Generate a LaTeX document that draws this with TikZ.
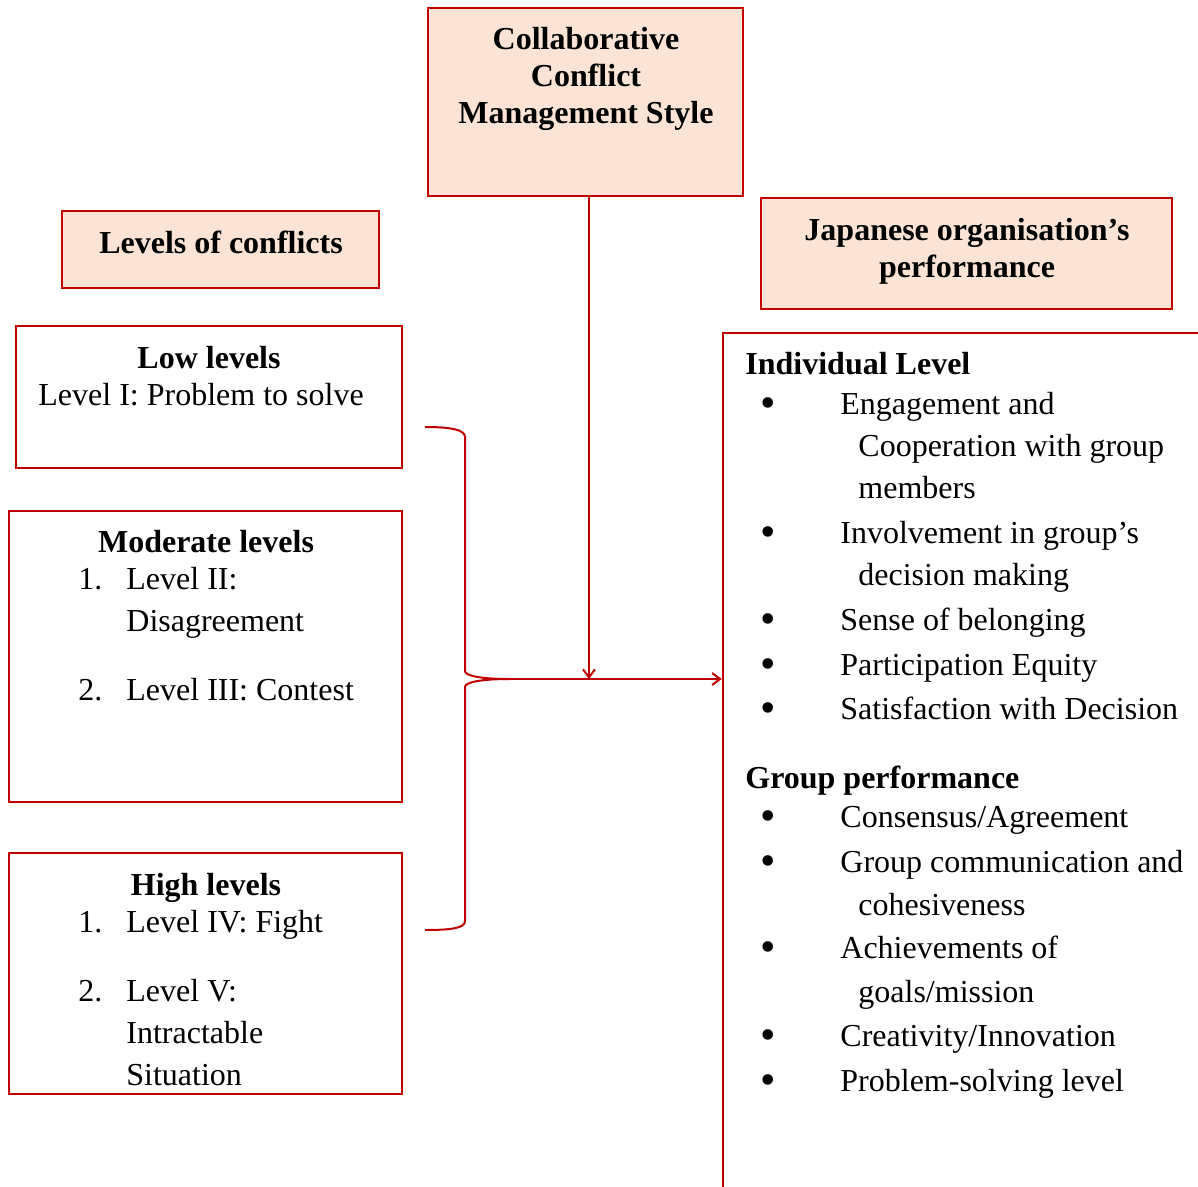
\documentclass[tikz,border=0pt]{standalone}
\usepackage{fontspec}
\setmainfont{Liberation Serif}
\usetikzlibrary{fit,arrows.meta,calc}
\definecolor{dred}{HTML}{C00000}
\definecolor{peach}{HTML}{FBE4D5}
\begin{document}
\begin{tikzpicture}[x=0.5pt,y=-0.5pt,
  box/.style={draw=dred,line width=1.2pt,inner sep=0pt},
  fbox/.style={box,fill=peach},
  conn/.style={draw=dred,line width=1pt},
  arr/.style={conn,-{Straight Barb[length=4pt,width=6pt]}},
  txt/.style={font=\fontsize{16}{21}\selectfont,inner sep=0pt,yshift=-0.8pt},
  btxt/.style={txt,font=\fontsize{16}{21}\selectfont\bfseries},
  bul/.style={txt,anchor=base,font=\fontsize{22}{21}\selectfont,yshift=-1.5pt}]
\useasboundingbox (0,0) rectangle (1198,1187);
\clip (0,0) rectangle (1198,1187);
% boxes
\node[fbox,fit={(428,8) (743,196)}] (collab) {};
\node[fbox,fit={(62,211) (379,288)}] (levels) {};
\node[fbox,fit={(761,198) (1172,309)}] (japan) {};
\node[box,fit={(16,326) (402,468)}] (low) {};
\node[box,fit={(9,511) (402,802)}] (moderate) {};
\node[box,fit={(9,853) (402,1094)}] (high) {};
\node[box,fit={(723,333) (1215,1205)}] (perf) {};
% titles
\node[btxt,anchor=base] (t1) at (586,48) {Collaborative};
\node[btxt,anchor=base] (t2) at (586,85) {Conflict};
\node[btxt,anchor=base] (t3) at (586,122) {Management Style};
\node[btxt,anchor=base] (t4) at (221,252) {Levels of conflicts};
\node[btxt,anchor=base] (t5) at (967,239) {Japanese organisation’s};
\node[btxt,anchor=base] (t6) at (967,276) {performance};
% left boxes text
\node[btxt,anchor=base] (l1) at (209,367) {Low levels};
\node[txt,anchor=base west] (l2) at (38,404) {Level I: Problem to solve};
\node[btxt,anchor=base] (m1) at (206,551) {Moderate levels};
\node[txt,anchor=base west] (m2n) at (78,588) {1.};
\node[txt,anchor=base west] (m2) at (126,588) {Level II:};
\node[txt,anchor=base west] (m3) at (126,630) {Disagreement};
\node[txt,anchor=base west] (m4n) at (78,699) {2.};
\node[txt,anchor=base west] (m4) at (126,699) {Level III: Contest};
\node[btxt,anchor=base] (h1) at (206,894) {High levels};
\node[txt,anchor=base west] (h2n) at (78,931) {1.};
\node[txt,anchor=base west] (h2) at (126,931) {Level IV: Fight};
\node[txt,anchor=base west] (h3n) at (78,1000) {2.};
\node[txt,anchor=base west] (h3) at (126,1000) {Level V:};
\node[txt,anchor=base west] (h4) at (126,1042) {Intractable};
\node[txt,anchor=base west] (h5) at (126,1084) {Situation};
% right box text
\node[btxt,anchor=base west] (r0) at (745,373) {Individual Level};
\node[bul] (b1) at (768,413) {•};
\node[txt,anchor=base west] (r1) at (840,413) {Engagement and};
\node[txt,anchor=base west] (r1b) at (858,455) {Cooperation with group};
\node[txt,anchor=base west] (r1c) at (858,497) {members};
\node[bul] (b2) at (768,542) {•};
\node[txt,anchor=base west] (r2) at (840,542) {Involvement in group’s};
\node[txt,anchor=base west] (r2b) at (858,584) {decision making};
\node[bul] (b3) at (768,629) {•};
\node[txt,anchor=base west] (r3) at (840,629) {Sense of belonging};
\node[bul] (b4) at (768,674) {•};
\node[txt,anchor=base west] (r4) at (840,674) {Participation Equity};
\node[bul] (b5) at (768,718) {•};
\node[txt,anchor=base west] (r5) at (840,718) {Satisfaction with Decision};
\node[btxt,anchor=base west] (g0) at (745,787) {Group performance};
\node[bul] (c1) at (768,826) {•};
\node[txt,anchor=base west] (g1) at (840,826) {Consensus/Agreement};
\node[bul] (c2) at (768,871) {•};
\node[txt,anchor=base west] (g2) at (840,871) {Group communication and};
\node[txt,anchor=base west] (g2b) at (858,914) {cohesiveness};
\node[bul] (c3) at (768,957) {•};
\node[txt,anchor=base west] (g3) at (840,957) {Achievements of};
\node[txt,anchor=base west] (g3b) at (858,1001) {goals/mission};
\node[bul] (c4) at (768,1045) {•};
\node[txt,anchor=base west] (g4) at (840,1045) {Creativity/Innovation};
\node[bul] (c5) at (768,1090) {•};
\node[txt,anchor=base west] (g5) at (840,1090) {Problem-solving level};
% brace
\coordinate (btop) at (425,427);
\coordinate (bbot) at (425,930);
\coordinate (tip) at (510,679);
\draw[conn] (btop) .. controls (452,427) and (465,430) .. (465,437)
  -- (465,671) .. controls (465,676) and (482,679) .. (tip)
  .. controls (482,679) and (465,682) .. (465,687)
  -- (465,921) .. controls (465,928) and (452,930) .. (bbot);
% connectors
\draw[arr] (tip) -- (tip -| perf.west);
\draw[arr] ([xshift=1.75pt]collab.south) -- ([xshift=1.75pt]collab.south |- tip);
\end{tikzpicture}
\end{document}
